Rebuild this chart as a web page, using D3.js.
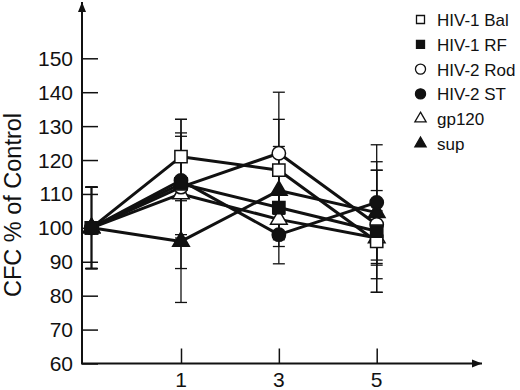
<!DOCTYPE html>
<html>
<head>
<meta charset="utf-8">
<script src="https://cdn.jsdelivr.net/npm/d3@7"></script>
<style>
  body { margin: 0; background: #fff; }
  text { font-family: "Liberation Sans", Arial, sans-serif; fill: #111; }
</style>
</head>
<body>
<svg id="chart" width="520" height="390"></svg>
<script>
// time points (first one is the control, drawn left of 1)
const days = [0, 1, 3, 5];
const dayTicks = [1, 3, 5];
const yTicks = [60, 70, 80, 90, 100, 110, 120, 130, 140, 150];

const seriesNames = ["HIV-1 Bal", "HIV-1 RF", "HIV-2 Rod", "HIV-2 ST", "gp120", "sup"];
const balVals = [100, 121, 117, 96];
const balErr = [12, 11, 15, 15];
const rfVals = [100, 113, 106, 99];
const rfErr = [12, 15, 9.5, 18];
const rodVals = [100, 112, 122, 101];
const rodErr = [12, 15, 18, 16];
const stVals = [100, 114, 98, 107.5];
const stErr = [12, 6, 8.6, 17];
const gpVals = [100, 110, 102.5, 97];
const gpErr = [12, 22, 8, 8];
const supVals = [100, 96, 111, 104.5];
const supErr = [12, 18, 13, 15];

const series = [
  { name: seriesNames[0], vals: balVals, err: balErr, sym: d3.symbolSquare, filled: false },
  { name: seriesNames[1], vals: rfVals, err: rfErr, sym: d3.symbolSquare, filled: true },
  { name: seriesNames[2], vals: rodVals, err: rodErr, sym: d3.symbolCircle, filled: false },
  { name: seriesNames[3], vals: stVals, err: stErr, sym: d3.symbolCircle, filled: true },
  { name: seriesNames[4], vals: gpVals, err: gpErr, sym: d3.symbolTriangle, filled: false },
  { name: seriesNames[5], vals: supVals, err: supErr, sym: d3.symbolTriangle, filled: true }
];
// marker stacking order (last on top)
const drawOrder = [4, 5, 0, 2, 3, 1];

const symSize = new Map([[d3.symbolSquare, 150], [d3.symbolCircle, 140], [d3.symbolTriangle, 120]]);
const legSize = new Map([[d3.symbolSquare, 64], [d3.symbolCircle, 80], [d3.symbolTriangle, 55]]);

const svg = d3.select("#chart");

const x = d3.scaleLinear().domain([0, 1, 5]).range([91.5, 181, 376.7]);
const y = d3.scaleLinear().domain([60, 150]).range([363.5, 58.3]);
const axisX = 82, axisY = 363.5;

// arrow head
svg.append("defs").append("marker")
  .attr("id", "arrow")
  .attr("viewBox", "0 0 10 10")
  .attr("refX", 10).attr("refY", 5)
  .attr("markerWidth", 10).attr("markerHeight", 10)
  .attr("markerUnits", "userSpaceOnUse")
  .attr("orient", "auto")
  .append("path").attr("d", "M0,1 L10,5 L0,9 Z").attr("fill", "#111");

// axes lines
svg.append("line")
  .attr("x1", axisX).attr("y1", axisY).attr("x2", axisX).attr("y2", 2)
  .attr("stroke", "#111").attr("stroke-width", 2)
  .attr("marker-end", "url(#arrow)");
svg.append("line")
  .attr("x1", axisX - 1).attr("y1", axisY).attr("x2", 482).attr("y2", axisY)
  .attr("stroke", "#111").attr("stroke-width", 2)
  .attr("marker-end", "url(#arrow)");

// y axis ticks (inward) + labels
const yAxis = svg.append("g").attr("transform", `translate(${axisX},0)`)
  .call(d3.axisRight(y).tickValues(yTicks).tickSize(16).tickFormat(""));
yAxis.select(".domain").remove();
yAxis.selectAll(".tick line").attr("stroke", "#111").attr("stroke-width", 1.5);

svg.append("g").selectAll("text")
  .data(yTicks).enter().append("text")
  .attr("x", 73).attr("y", d => y(d) + 7.5)
  .attr("text-anchor", "end")
  .style("font-size", "21px")
  .text(d => d);

// x axis ticks (inward) + labels
const xAxis = svg.append("g").attr("transform", `translate(0,${axisY})`)
  .call(d3.axisTop(x).tickValues(dayTicks).tickSize(15).tickFormat(""));
xAxis.select(".domain").remove();
xAxis.selectAll(".tick line").attr("stroke", "#111").attr("stroke-width", 1.5);

svg.append("g").selectAll("text")
  .data(dayTicks).enter().append("text")
  .attr("x", d => x(d)).attr("y", 387)
  .attr("text-anchor", "middle")
  .style("font-size", "21px")
  .text(d => d);

// axis title
svg.append("text")
  .attr("transform", "translate(20.5,205) rotate(-90)")
  .attr("text-anchor", "middle")
  .style("font-size", "23.5px")
  .text("CFC % of Control");

const plot = svg.append("g");

// error bars
series.forEach(s => {
  const g = plot.append("g");
  days.forEach((d, i) => {
    const cx = x(d), lo = y(s.vals[i] - s.err[i]), hi = y(s.vals[i] + s.err[i]);
    g.append("line").attr("x1", cx).attr("x2", cx).attr("y1", lo).attr("y2", hi)
      .attr("stroke", "#111").attr("stroke-width", 1.3);
    [lo, hi].forEach(v => g.append("line")
      .attr("x1", cx - 6).attr("x2", cx + 6).attr("y1", v).attr("y2", v)
      .attr("stroke", "#111").attr("stroke-width", 1.3));
  });
});

// lines
const line = d3.line().x((d, i) => x(days[i])).y(d => y(d));
series.forEach(s => {
  plot.append("path")
    .attr("d", line(s.vals))
    .attr("fill", "none")
    .attr("stroke", "#111")
    .attr("stroke-width", 3)
    .attr("stroke-linejoin", "round");
});

// markers
drawOrder.map(i => series[i]).forEach(s => {
  plot.append("g").selectAll("path")
    .data(s.vals).enter().append("path")
    .attr("transform", (d, i) => `translate(${x(days[i])},${y(d)})`)
    .attr("d", d3.symbol().type(s.sym).size(symSize.get(s.sym)))
    .attr("fill", s.filled ? "#111" : "#fff")
    .attr("stroke", "#111")
    .attr("stroke-width", 1.5);
});

// legend
const leg = svg.append("g").attr("transform", "translate(420.5,19.5)");
const items = leg.selectAll("g").data(series).enter().append("g")
  .attr("transform", (d, i) => `translate(0,${i * 24.8})`);
items.append("path")
  .attr("d", d => d3.symbol().type(d.sym).size(legSize.get(d.sym))())
  .attr("fill", d => d.filled ? "#111" : "#fff")
  .attr("stroke", "#111")
  .attr("stroke-width", 1.3);
items.append("text")
  .attr("x", 16.5).attr("y", 6.5)
  .style("font-size", "17px")
  .text(d => d.name);
</script>
</body>
</html>
